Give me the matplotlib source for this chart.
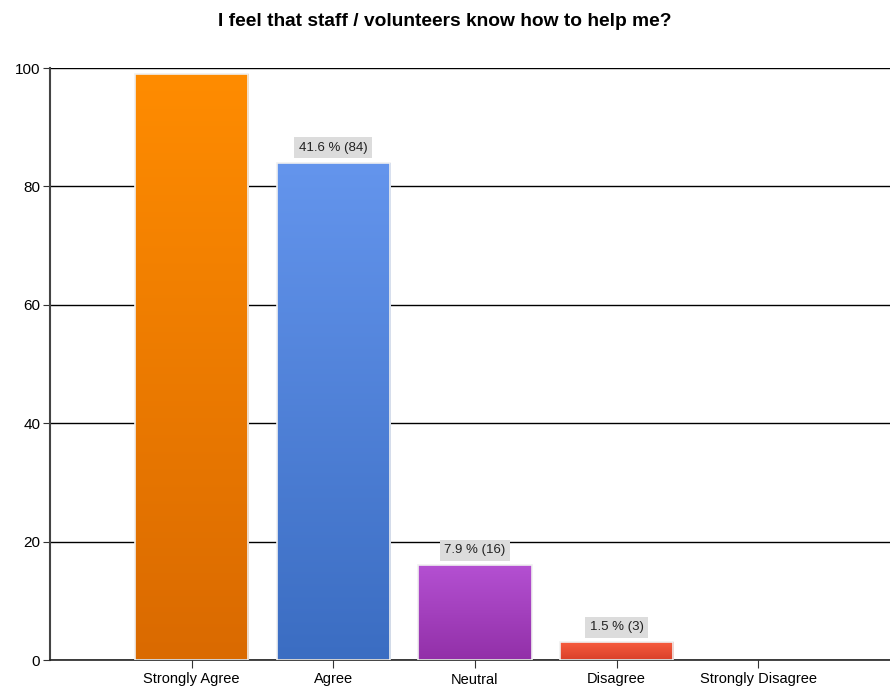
import numpy as np
import matplotlib
matplotlib.use("Agg")
import matplotlib.pyplot as plt
from matplotlib.colors import LinearSegmentedColormap

plt.rcParams["font.family"] = ["Liberation Sans", "DejaVu Sans"]

categories = ["Strongly Agree", "Agree", "Neutral", "Disagree", "Strongly Disagree"]
counts = [99, 84, 16, 3, 0]
labels = [None, "41.6 % (84)", "7.9 % (16)", "1.5 % (3)", None]
# top / bottom colour of each gradient bar
top_colors = ["#ff8c00", "#6495ed", "#b450d2", "#f75c3e", "#cccccc"]
bottom_colors = ["#da6a00", "#3b6dc2", "#9230a8", "#d9402a", "#aaaaaa"]

fig = plt.figure(figsize=(8.9, 6.86), dpi=100)
ax = fig.add_axes([50 / 890, 1 - 660 / 686, 1 - 50 / 890, (660 - 68) / 686])

x = np.arange(len(categories))
bars = ax.bar(x, counts, width=0.8, color="none", edgecolor="#f0f0f0",
              linewidth=1.2, zorder=3)

grad = np.linspace(0, 1, 256).reshape(-1, 1)
for b, c0, c1 in zip(bars, top_colors, bottom_colors):
    if b.get_height() <= 0:
        b.set_linewidth(0)
        continue
    cmap = LinearSegmentedColormap.from_list("g", [c1, c0])
    x0, w, h = b.get_x(), b.get_width(), b.get_height()
    im = ax.imshow(grad, cmap=cmap, aspect="auto", origin="lower",
                   extent=[x0, x0 + w, 0, h], zorder=2)
    im.set_clip_path(b)

for xi, v, lab in zip(x, counts, labels):
    if lab:
        ax.annotate(lab, (xi, v), xytext=(0, 6.5), textcoords="offset points",
                    ha="center", va="bottom", fontsize=9.5, color="#222222",
                    bbox=dict(boxstyle="square,pad=0.35", fc="#dcdcdc", ec="none"),
                    zorder=4)

ax.set_xlim(-1.0, 4.93)
ax.set_ylim(0, 100)
ax.set_yticks([0, 20, 40, 60, 80, 100])
ax.set_xticks(x)
ax.set_xticklabels(categories, fontsize=10.5)
ax.tick_params(axis="y", labelsize=11, length=5, color="#333333", pad=2)
ax.tick_params(axis="x", length=6, color="#333333", pad=3)
ax.yaxis.grid(True, color="black", linewidth=1.0, zorder=1)
ax.set_axisbelow(True)
for s in ["top", "right"]:
    ax.spines[s].set_visible(False)
ax.spines["left"].set_color("#444444")
ax.spines["left"].set_linewidth(1.5)
ax.spines["bottom"].set_color("#222222")
ax.spines["bottom"].set_linewidth(1.2)

fig.text(0.5, 1 - 22 / 686, "I feel that staff / volunteers know how to help me?",
         ha="center", va="center", fontsize=13.8, fontweight="bold")

fig.savefig("out.png", dpi=100)
